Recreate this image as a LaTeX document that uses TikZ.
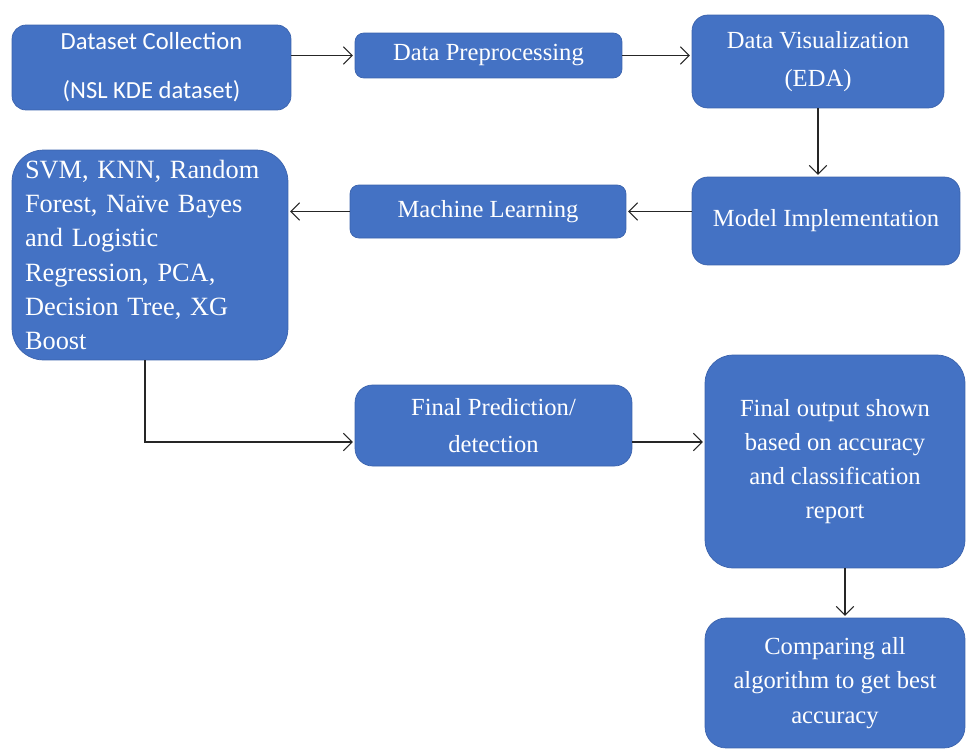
\documentclass[tikz,border=0pt]{standalone}
\usepackage{fontspec}
\setmainfont{Liberation Serif}
\newfontfamily\calibrifont{Carlito}
\usetikzlibrary{arrows.meta}
\definecolor{stageblue}{HTML}{4472C4}
\definecolor{stageedge}{HTML}{3B63AD}
\tikzset{
  stage/.style={draw=stageedge, fill=stageblue, text=white, rounded corners=#1,
    align=center, inner sep=0pt, font=\fontsize{14}{19.5}\selectfont},
  stage/.default=7pt,
  flow/.style={-{Straight Barb[length=5pt,width=10pt]}, semithick, black!85, shorten >=1pt}
}
\begin{document}
\begin{tikzpicture}[x=0.02cm, y=-0.02cm]
    \useasboundingbox (0,0) rectangle (967,751);
    % top row
    \node [stage=8pt, minimum width=5.58cm, minimum height=1.7cm, font=\calibrifont\fontsize{14}{16}\selectfont] (dsc) at (151.5,67.5) {Dataset Collection\\[12pt](NSL KDE dataset)};
    \node [stage=5pt, minimum width=5.34cm, minimum height=0.9cm] (prep) at (488.5,55.5) {Data Preprocessing};
    \node [stage=9pt, minimum width=5.04cm, minimum height=1.86cm, font=\fontsize{14}{22}\selectfont] (viz) at (818,61.5) {Data Visualization\\(EDA)};
    % second row
    \node [stage=9pt, minimum width=5.36cm, minimum height=1.76cm] (impl) at (826,221) {Model Implementation};
    \node [stage=5pt, minimum width=5.52cm, minimum height=1.06cm] (ml) at (488,211.5) {Machine Learning};
    \node [stage=18pt, minimum height=4.2cm, text width=5.0cm, inner xsep=0.26cm, align=left, font=\fontsize{15}{19.5}\selectfont] (algos) at (150,255) {SVM, KNN, Random\\Forest, Na\"ive Bayes\\and Logistic\\Regression, PCA,\\Decision Tree, XG\\Boost};
    % bottom part
    \node [stage=10pt, minimum width=5.54cm, minimum height=1.62cm, font=\fontsize{14}{21}\selectfont] (pred) at (493.5,425.5) {Final Prediction/\\detection};
    \node [stage=16pt, minimum width=5.2cm, minimum height=4.26cm] (out) at (835,461.5) {Final output shown\\based on accuracy\\and classification\\report};
    \node [stage=12pt, minimum width=5.2cm, minimum height=2.6cm] (cmp) at (835,683) {Comparing all\\algorithm to get best\\accuracy};
    \coordinate (bend) at (145,442);
    % arrows
    \draw [flow] (dsc.east |- prep.west) -- (prep.west);
    \draw [flow] (prep.east) -- (viz.west |- prep.east);
    \draw [flow] (viz.south) -- (viz.south |- impl.north);
    \draw [flow] (impl.west |- ml.east) -- (ml.east);
    \draw [flow] (ml.west) -- (algos.east |- ml.west);
    \draw [flow] (algos.south -| bend) -- (bend) -- (pred.west |- bend);
    \draw [flow] (pred.east |- bend) -- (out.west |- bend);
    \draw [flow] (out.south -| 845,0) -- (cmp.north -| 845,0);
\end{tikzpicture}
\end{document}
